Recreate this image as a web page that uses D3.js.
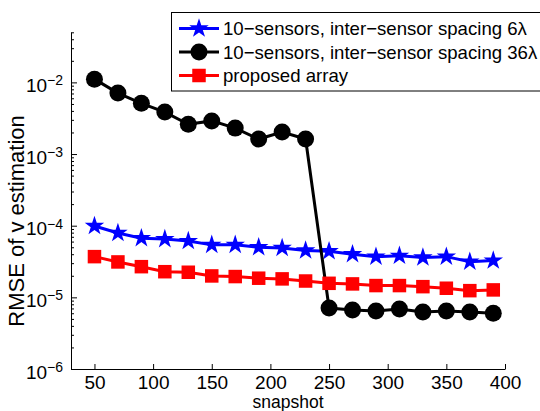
<!DOCTYPE html>
<html>
<head>
<meta charset="utf-8">
<script src="https://cdn.jsdelivr.net/npm/d3@7"></script>
<style>
  body { margin: 0; background: #fff; }
  svg { display: block; font-family: "Liberation Sans", Arial, sans-serif; }
</style>
</head>
<body>
<svg id="chart" width="540" height="411"></svg>
<script>
'use strict';

var snapshots = [50, 70, 90, 110, 130, 150, 170, 190, 210, 230, 250, 270, 290, 310, 330, 350, 370, 390];

var spacing6 = [9.9e-5, 7.9e-5, 6.7e-5, 6.5e-5, 6.1e-5, 5.4e-5, 5.4e-5, 5.0e-5, 4.9e-5,
  4.5e-5, 4.4e-5, 4.0e-5, 3.7e-5, 3.8e-5, 3.6e-5, 3.7e-5, 3.15e-5, 3.26e-5];

var spacing36 = [1.11e-2, 7.1e-3, 5.1e-3, 3.85e-3, 2.6e-3, 2.9e-3, 2.3e-3, 1.62e-3, 2.03e-3,
  1.62e-3, 7.1e-6, 6.67e-6, 6.45e-6, 6.9e-6, 6.25e-6, 6.45e-6, 6.25e-6, 6.0e-6];

var proposed = [3.7e-5, 3.12e-5, 2.68e-5, 2.28e-5, 2.24e-5, 1.99e-5, 1.95e-5, 1.85e-5, 1.81e-5,
  1.69e-5, 1.57e-5, 1.54e-5, 1.46e-5, 1.46e-5, 1.41e-5, 1.34e-5, 1.24e-5, 1.27e-5];

var xTicks = [50, 100, 150, 200, 250, 300, 350, 400];
var yTicks = [1e-6, 1e-5, 1e-4, 1e-3, 1e-2];
var yTickExp = ['\u22126', '\u22125', '\u22124', '\u22123', '\u22122'];

var seriesNames = [
  '10\u2212sensors, inter\u2212sensor spacing 6\u03bb',
  '10\u2212sensors, inter\u2212sensor spacing 36\u03bb',
  'proposed array'
];

var series = [
  { name: seriesNames[0], values: spacing6, color: '#0000ff', marker: 'star' },
  { name: seriesNames[1], values: spacing36, color: '#000000', marker: 'circle' },
  { name: seriesNames[2], values: proposed, color: '#ff0000', marker: 'square' }
];

var svg = d3.select('#chart');

var x = d3.scaleLinear().domain([30, 400]).range([71, 505]);
var y = d3.scaleLog().domain([1e-6, 5e-2]).range([369, 32.3]);

// axes (MATLAB style, ticks pointing inward, no box)
var gx = svg.append('g')
  .attr('transform', 'translate(0,' + y.range()[0] + ')')
  .call(d3.axisBottom(x).tickValues(xTicks).tickSizeInner(-5).tickSizeOuter(0).tickPadding(7));
gx.selectAll('text').attr('font-size', 19).attr('fill', '#000');

var minor = y.ticks().filter(function (v) { return yTicks.indexOf(v) < 0 && v <= 5e-2; });
svg.append('g')
  .attr('transform', 'translate(' + x.range()[0] + ',0)')
  .call(d3.axisLeft(y).tickValues(minor).tickSizeInner(-3).tickSizeOuter(0).tickFormat(''));

var gy = svg.append('g')
  .attr('transform', 'translate(' + x.range()[0] + ',0)')
  .call(d3.axisLeft(y).tickValues(yTicks).tickSizeInner(-6).tickSizeOuter(0).tickFormat(''));

svg.selectAll('.domain, .tick line').attr('stroke', '#000');

var yl = gy.selectAll('.tick').append('text')
  .attr('x', -8)
  .attr('y', 9)
  .attr('text-anchor', 'end')
  .attr('fill', '#000')
  .attr('font-size', 19);
yl.append('tspan').text('10');
yl.append('tspan')
  .attr('font-size', 14)
  .attr('dy', -6.5)
  .text(function (d, i) { return yTickExp[i]; });

svg.append('text')
  .attr('x', 288).attr('y', 408)
  .attr('text-anchor', 'middle')
  .attr('font-size', 17.5)
  .text('snapshot');

svg.append('text')
  .attr('transform', 'translate(24,221) rotate(-90)')
  .attr('text-anchor', 'middle')
  .attr('font-size', 22)
  .text('RMSE of v estimation');

// markers
var starSym = d3.symbol().type(d3.symbolStar).size(118);
var drawMarker = function (g, s, cx, cy) {
  if (s.marker === 'star') {
    g.append('path').attr('d', starSym()).attr('transform', 'translate(' + cx + ',' + cy + ')')
      .attr('fill', s.color);
  } else if (s.marker === 'circle') {
    g.append('circle').attr('cx', cx).attr('cy', cy).attr('r', 8.5).attr('fill', s.color);
  } else {
    g.append('rect').attr('x', cx - 6.75).attr('y', cy - 6.75).attr('width', 13.5).attr('height', 13.5)
      .attr('fill', s.color);
  }
};

var line = d3.line()
  .x(function (d, i) { return x(snapshots[i]); })
  .y(function (d) { return y(d); });

series.forEach(function (s) {
  var g = svg.append('g');
  g.append('path')
    .attr('d', line(s.values))
    .attr('fill', 'none')
    .attr('stroke', s.color)
    .attr('stroke-width', 3);
  s.values.forEach(function (v, i) {
    drawMarker(g, s, x(snapshots[i]), y(v));
  });
});

// legend
var lg = svg.append('g');
lg.append('rect')
  .attr('x', 171.5).attr('y', 12.5)
  .attr('width', 380).attr('height', 78.5)
  .attr('fill', '#fff').attr('stroke', '#000');

var rowY = [28.5, 52, 75.5];
series.forEach(function (s, i) {
  lg.append('line')
    .attr('x1', 179).attr('x2', 219)
    .attr('y1', rowY[i]).attr('y2', rowY[i])
    .attr('stroke', s.color).attr('stroke-width', 3);
  drawMarker(lg, s, 199, rowY[i]);
  lg.append('text')
    .attr('x', 223).attr('y', rowY[i] + 6.5)
    .attr('font-size', 18.6)
    .text(s.name);
});
</script>
</body>
</html>
